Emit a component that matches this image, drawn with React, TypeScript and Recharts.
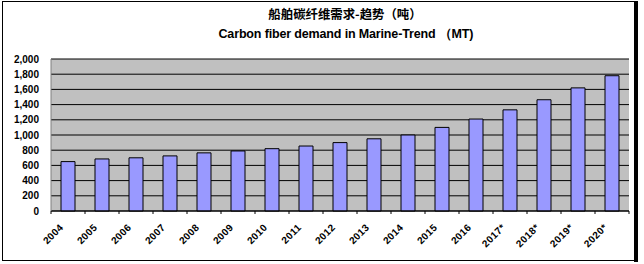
import React from 'react';
import { BarChart, Bar, XAxis, YAxis, CartesianGrid } from 'recharts';

const years = ['2004', '2005', '2006', '2007', '2008', '2009', '2010', '2011', '2012', '2013', '2014', '2015', '2016', '2017*', '2018*', '2019*', '2020*'];
const demand = [650, 685, 700, 725, 765, 790, 820, 855, 900, 950, 1000, 1100, 1210, 1331, 1464, 1620, 1780];
const yTicks = [0, 200, 400, 600, 800, 1000, 1200, 1400, 1600, 1800, 2000];
const titleCn = '船舶碳纤维需求-趋势（吨）';
const titleEn = 'Carbon fiber demand in Marine-Trend （MT)';

const data = years.map((y, i) => ({ year: y, demand: demand[i] }));

const FONT = 'Arial, "Liberation Sans", sans-serif';

const XTick = (props: any) => {
  const { x, y, payload } = props;
  const off = payload && typeof payload.offset === 'number' ? payload.offset : 17;
  return (
    <g>
      <line x1={x + off} x2={x + off} y1={y} y2={y + 3} stroke="#000" strokeWidth={1} />
      {payload.index === 0 && <line x1={x - off} x2={x - off} y1={y} y2={y + 3} stroke="#000" strokeWidth={1} />}
      <text
        transform={`translate(${x - 4},${y + 17}) rotate(-45)`}
        textAnchor="end"
        fontSize={10}
        fontWeight="bold"
        fontFamily={FONT}
        letterSpacing={0.4}
        fill="#000"
      >
        {payload.value}
      </text>
    </g>
  );
};

export default function App() {
  return (
    <div style={{ position: 'absolute', left: 0, top: 0, width: 644, height: 264, background: '#fff' }}>
      <BarChart width={644} height={264} data={data} margin={{ top: 59, right: 15, bottom: 8, left: 0 }}>
        <CartesianGrid horizontal={true} vertical={false} stroke="#000" strokeWidth={1} fill="#C0C0C0" fillOpacity={1} />
        <XAxis
          dataKey="year"
          height={45}
          tickLine={false}
          tickSize={0}
          tickMargin={0}
          interval={0}
          axisLine={{ stroke: '#000', strokeWidth: 1 }}
          tick={<XTick />}
        />
        <YAxis
          width={51}
          domain={[0, 2000]}
          ticks={yTicks}
          interval={0}
          tickLine={false}
          tickSize={0}
          tickMargin={12}
          axisLine={{ stroke: '#808080', strokeWidth: 1 }}
          tickFormatter={(v: number) => v.toLocaleString('en-US')}
          tick={{ fontSize: 10, fontWeight: 'bold', fontFamily: FONT, fill: '#000' }}
        />
        <YAxis
          yAxisId="r"
          orientation="right"
          width={0}
          domain={[0, 2000]}
          tick={false}
          tickLine={false}
          axisLine={{ stroke: '#808080', strokeWidth: 1 }}
        />
        <Bar dataKey="demand" fill="#9999FF" stroke="#000" strokeWidth={1} barSize={14} isAnimationActive={false} />
      </BarChart>
      <svg width={644} height={264} style={{ position: 'absolute', left: 0, top: 0, pointerEvents: 'none' }}>
        <text x={345} y={19} textAnchor="middle" fontSize={12.4} fontWeight="bold" fontFamily='"Noto Sans CJK SC", sans-serif' fill="#000">
          {titleCn}
        </text>
        <text x={346} y={38} textAnchor="middle" fontSize={12.5} fontWeight="bold" fontFamily={FONT} fill="#000" textLength={255} lengthAdjust="spacing">
          {titleEn}
        </text>
        <rect x={2.5} y={1.5} width={632} height={259} fill="none" stroke="#000" strokeWidth={1} />
        <line x1={636} x2={636} y1={1} y2={262} stroke="#000" strokeWidth={4} />
      </svg>
    </div>
  );
}
